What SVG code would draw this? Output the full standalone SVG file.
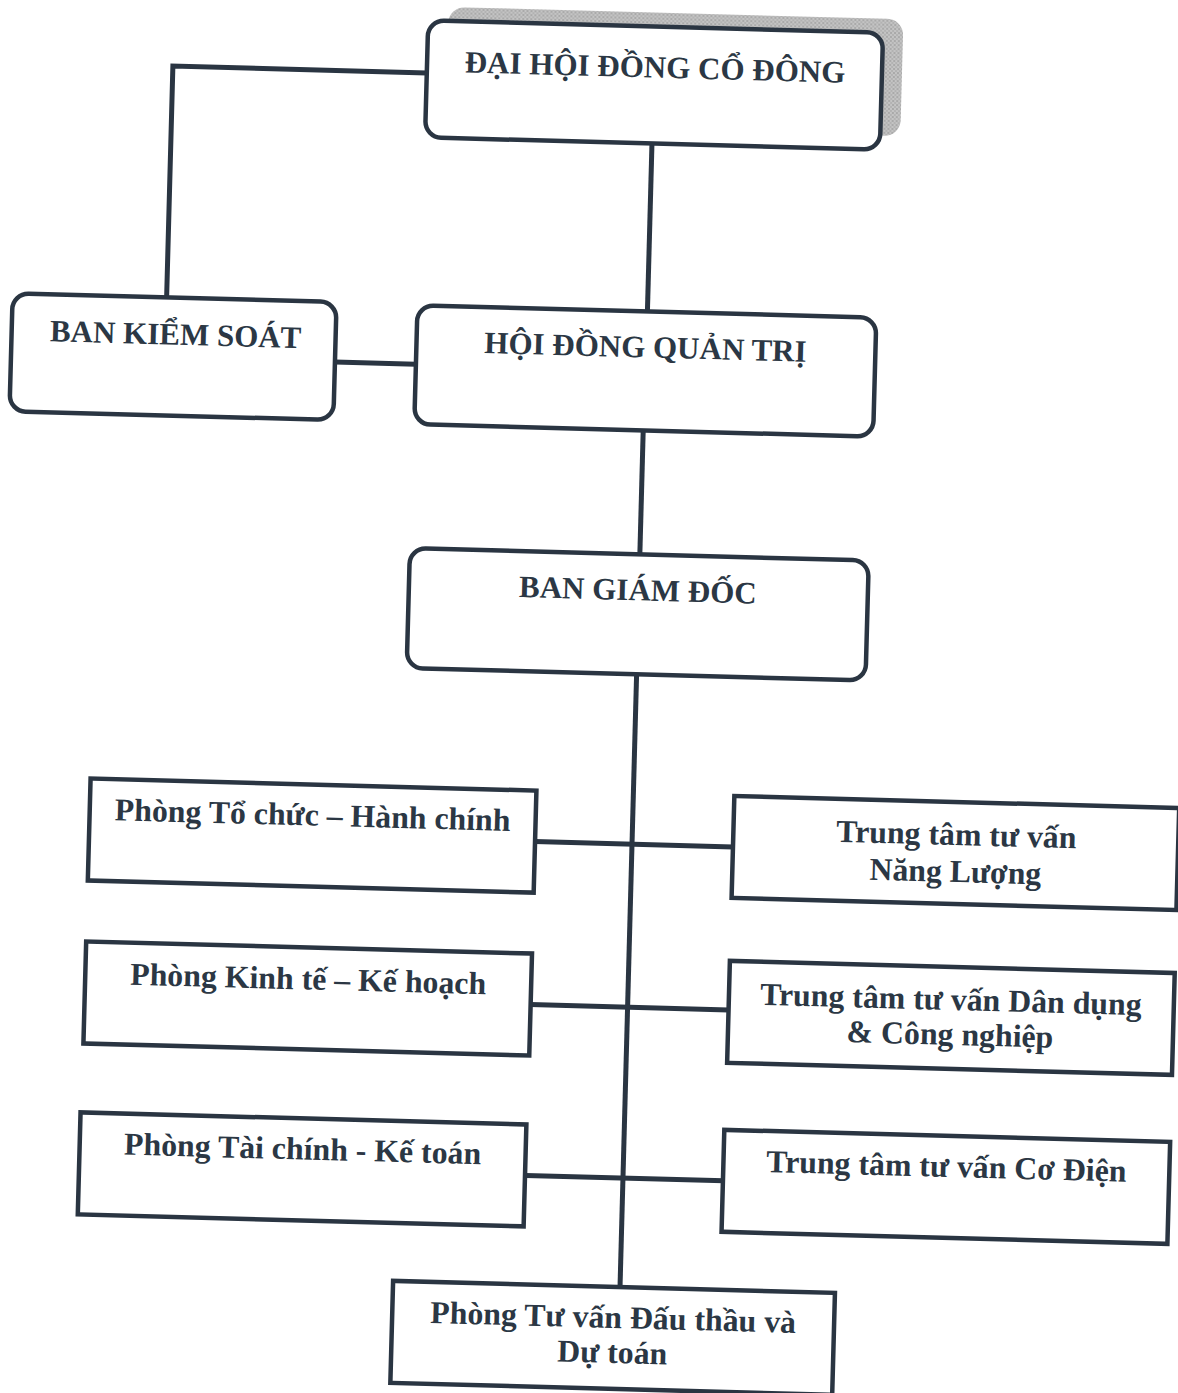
<svg xmlns="http://www.w3.org/2000/svg" width="1178" height="1393" viewBox="0 0 1178 1393">
<defs>
<pattern id="dither" width="4" height="4" patternUnits="userSpaceOnUse">
<rect width="4" height="4" fill="#c4c4c4"/>
<rect width="2" height="2" fill="#a9a9a9"/>
<rect x="2" y="2" width="2" height="2" fill="#b2b2b2"/>
</pattern>
</defs>
<style>
.box{fill:#fff;stroke:#2a3542;stroke-width:4.5}
.lbl{font-family:"Liberation Serif","Times New Roman",serif;font-weight:bold;font-size:31px;fill:#2b3744;text-anchor:middle}
.sm{font-size:31.8px}
.conn{fill:none;stroke:#2a3542;stroke-width:5;stroke-linejoin:miter}
</style>
<rect width="1178" height="1393" fill="#ffffff"/>
<g transform="rotate(1.55 589 696)">
<g id="connectors">
<polyline class="conn" points="410,77.5 156,77.5 156,309"/>
<line class="conn" x1="326" y1="369" x2="407" y2="369"/>
<line class="conn" x1="637" y1="142" x2="637" y2="310"/>
<line class="conn" x1="636" y1="429" x2="636" y2="553"/>
<line class="conn" x1="636" y1="673" x2="636" y2="1286"/>
<line class="conn" x1="539" y1="843" x2="737" y2="843"/>
<line class="conn" x1="539" y1="1006" x2="737" y2="1006"/>
<line class="conn" x1="539" y1="1177" x2="737" y2="1177"/>
</g>
<g id="dai-hoi-dong-co-dong">
<rect x="430" y="11" width="455" height="117" rx="16" fill="url(#dither)"/>
<rect class="box" x="410" y="25" width="455" height="117" rx="16"/>
<text class="lbl" x="638" y="76">ĐẠI HỘI ĐỒNG CỔ ĐÔNG</text>
</g>
<g id="ban-kiem-soat">
<rect class="box" x="2" y="309" width="324" height="118" rx="16"/>
<text class="lbl" x="166" y="356">BAN KIỂM SOÁT</text>
</g>
<g id="hoi-dong-quan-tri">
<rect class="box" x="407" y="310" width="459" height="119" rx="16"/>
<text class="lbl" x="636" y="356">HỘI ĐỒNG QUẢN TRỊ</text>
</g>
<g id="ban-giam-doc">
<rect class="box" x="406" y="553" width="459" height="120" rx="16"/>
<text class="lbl" x="635" y="599">BAN GIÁM ĐỐC</text>
</g>
<g id="phong-to-chuc-hanh-chinh">
<rect class="box" x="93" y="792" width="446" height="102"/>
<text class="lbl sm" x="316" y="833">Phòng Tổ chức – Hành chính</text>
</g>
<g id="phong-kinh-te-ke-hoach">
<rect class="box" x="93" y="955" width="446" height="102"/>
<text class="lbl sm" x="316" y="997">Phòng Kinh tế – Kế hoạch</text>
</g>
<g id="phong-tai-chinh-ke-toan">
<rect class="box" x="92" y="1126" width="446" height="102"/>
<text class="lbl sm" x="315" y="1167">Phòng Tài chính - Kế toán</text>
</g>
<g id="tt-nang-luong">
<rect class="box" x="737" y="792" width="445" height="102"/>
<text class="lbl sm" x="960" y="835">Trung tâm tư vấn</text>
<text class="lbl sm" x="960" y="872">Năng Lượng</text>
</g>
<g id="tt-dan-dung-cong-nghiep">
<rect class="box" x="737" y="957" width="445" height="102"/>
<text class="lbl sm" x="959" y="1000">Trung tâm tư vấn Dân dụng</text>
<text class="lbl sm" x="959" y="1035">&amp; Công nghiệp</text>
</g>
<g id="tt-co-dien">
<rect class="box" x="736" y="1126" width="446" height="102"/>
<text class="lbl sm" x="959" y="1167">Trung tâm tư vấn Cơ Điện</text>
</g>
<g id="phong-tu-van-dau-thau">
<rect class="box" x="409" y="1286" width="442" height="102"/>
<text class="lbl sm" x="630" y="1327">Phòng Tư vấn Đấu thầu và</text>
<text class="lbl sm" x="630" y="1362">Dự toán</text>
</g>
</g>
</svg>
